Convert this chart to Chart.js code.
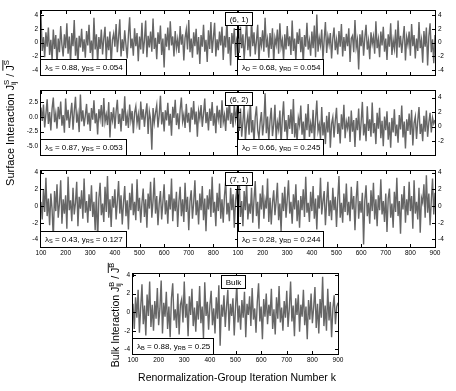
<!DOCTYPE html>
<html><head><meta charset="utf-8">
<script src="https://cdn.jsdelivr.net/npm/chart.js@4.4.1/dist/chart.umd.min.js"></script>
<style>
html,body{margin:0;padding:0;background:#fff;}
#wrap{position:relative;width:456px;height:391px;overflow:hidden;background:#fff;}
#wrap canvas{position:absolute;left:0;top:0;}
</style></head><body><div id="wrap"></div>
<script>
// ---------------- data ----------------
const kStart = 100, kStep = 5;
const kTicks = [100,200,300,400,500,600,700,800,900];
const yTicks4 = [-4,-2,0,2,4];
const yTicksS62 = [-5,-2.5,0,2.5];
const yTicksD62 = [-2,0,2,4];
const tagLabels = ['(6, 1)','(6, 2)','(7, 1)','Bulk'];
const lambdaS = ['0.88','0.87','0.43'];
const yRS = ['0.054','0.053','0.127'];
const lambdaD = ['0.68','0.66','0.28'];
const yRD = ['0.054','0.245','0.244'];
const lambdaB = '0.88', yRB = '0.25';

const surfS61 = [
3.9,-1.2,0.8,-2.1,1.5,-0.6,2.2,-1.8,0.4,-2.6,
1.9,-0.9,1.1,-3.2,0.6,-1.4,2.4,-0.3,-2.0,1.2,
-0.8,2.8,-1.6,0.9,-2.9,1.4,-0.5,3.3,-1.9,0.7,
-3.4,1.0,-0.7,2.0,-1.3,0.5,-2.2,1.7,-0.4,2.6,
-1.5,0.3,-2.4,3.6,-1.0,1.2,-3.0,0.8,-0.9,1.9,
-1.7,0.6,2.3,-2.5,0.9,-1.1,1.6,-3.3,0.4,1.3,
-0.6,2.7,-1.4,0.8,3.4,-2.0,0.5,-1.2,1.8,-0.3,
-2.3,1.1,3.7,-0.8,0.6,-1.9,2.1,-0.5,1.4,-2.7,
0.9,-1.0,2.9,-1.6,0.3,3.2,-2.1,1.0,-0.7,1.6,
-1.3,3.5,-0.9,0.7,-2.4,1.5,-0.2,2.5,-1.8,0.6,
-3.6,1.3,-0.6,2.2,-1.1,3.1,-0.4,0.9,-2.0,1.7,
-0.8,0.5,-1.5,2.4,-0.3,1.2,-2.6,0.7,1.9,-1.0,
3.3,-1.4,0.6,-2.2,1.5,-0.5,2.0,-1.7,0.8,-3.1,
1.1,-0.6,2.6,-1.3,0.4,-2.8,1.8,-0.9,3.0,-1.5,
0.7,2.9,-2.0,0.5,-1.1,1.6,-0.4,2.3,-2.5,1.0,
-0.7,3.4,-1.6,0.8,-3.3,1.4,-0.2,2.1,-1.9,0.6,
1.2];
const surfD61 = [
0.6,-1.5,2.3,-0.8,1.2,-2.4,0.4,3.1,-1.1,0.9,
-2.0,3.4,-0.5,1.5,-1.7,0.3,2.6,-2.9,0.8,-0.4,
1.8,-1.3,3.6,-0.7,0.5,-2.2,1.4,-0.9,2.1,-3.0,
0.7,-0.3,1.9,-1.6,2.8,-0.6,0.4,-2.5,1.2,-1.0,
2.4,-0.5,0.9,-1.8,3.2,-1.2,0.6,-2.7,1.5,-0.2,
2.0,-1.4,0.8,-3.1,1.1,-0.6,2.9,-1.0,0.3,-1.9,
1.6,-0.8,2.5,-2.1,4.1,-1.3,0.7,-0.4,1.9,-2.6,
0.5,3.0,-1.5,0.9,-0.3,1.4,-2.3,0.6,2.2,-1.1,
0.4,-1.7,1.7,-0.6,2.7,-2.0,0.8,-1.2,1.3,-0.5,
2.1,-2.8,0.6,1.0,-1.4,3.3,-0.7,0.4,-3.9,1.2,
-0.5,1.8,-1.9,0.7,2.6,-1.0,0.3,-2.4,1.5,-0.2,
0.9,-1.6,3.1,-0.8,0.5,-2.1,1.6,-0.4,2.3,-1.3,
0.6,-2.5,1.2,-0.6,2.8,-1.8,0.4,-0.9,1.9,-2.2,
3.2,-0.7,1.0,-1.5,0.5,2.4,-2.6,0.8,-0.3,1.6,
-1.9,2.7,-0.5,1.1,-2.3,0.6,-1.2,3.0,-0.8,0.4,
-2.9,1.7,-0.6,2.2,-3.3,0.9,2.8,-1.4,0.5,-3.0,
1.1];
const surfS62 = [
1.6,-0.7,2.1,-1.8,0.5,3.0,-1.2,0.8,-2.3,1.4,
3.3,-0.9,0.6,-2.0,1.7,-0.4,2.6,-1.5,0.3,-2.7,
3.1,-0.6,1.2,-1.9,0.4,2.4,-2.2,0.9,3.4,-1.0,
0.5,-2.6,3.8,-0.8,1.1,-1.6,0.2,2.2,-1.3,0.7,
-2.4,1.5,-0.5,2.8,-1.1,0.6,-3.0,1.3,-0.3,2.0,
-1.7,3.2,-0.9,0.4,-1.4,2.5,-3.5,0.8,-0.6,1.6,
-2.0,0.9,2.9,-1.2,0.5,-2.5,1.4,-0.7,3.5,-1.5,
0.3,-1.9,2.1,-0.6,1.0,-2.8,0.7,1.8,-1.1,0.4,
-2.2,2.6,-0.5,1.3,-1.7,0.6,2.3,-2.9,0.9,-0.4,
-5.6,1.5,-1.0,0.7,2.0,-1.8,0.3,3.6,-1.3,0.8,
-2.5,1.1,-0.6,2.4,-1.5,0.5,-3.2,1.7,-0.2,2.9,
-1.4,0.6,-2.1,1.2,3.3,-0.8,0.4,-1.9,2.2,-1.0,
0.7,-2.6,1.6,-0.5,2.7,-1.3,0.9,-3.4,1.0,-0.3,
2.0,-1.7,0.5,3.1,-1.1,0.8,-2.3,1.4,-0.7,2.5,
-1.5,0.6,-2.8,1.9,-0.4,1.2,-1.9,2.8,-0.9,0.3,
-2.4,1.6,-0.6,3.0,-1.2,0.7,-1.8,2.3,-0.5,1.1,
-1.3];
const surfD62 = [
1.8,-0.6,2.5,-1.4,0.7,3.2,-1.9,0.4,1.6,-1.1,
3.7,-0.8,0.9,-2.2,1.3,2.8,-0.5,-1.6,0.6,2.0,
-1.2,0.5,4.6,-0.9,1.4,-2.0,0.8,2.6,-1.3,0.3,
3.0,-1.7,0.6,-0.4,2.2,-2.5,1.1,3.5,-0.7,0.9,
-1.8,1.6,-0.3,2.4,-1.0,3.8,-1.5,0.5,-2.2,1.2,
0.2,2.9,-1.1,0.7,-2.6,1.8,-0.5,3.1,-1.4,0.4,
-0.9,2.3,-2.0,1.0,3.6,-0.6,0.3,-1.7,2.7,-1.2,
0.6,-2.4,1.5,-0.8,2.0,-2.9,0.4,1.3,-1.5,0.8,
2.6,-1.0,0.5,-2.3,1.7,-0.4,3.0,-1.6,0.7,-0.2,
1.4,-2.1,2.2,-0.7,0.9,-2.8,1.2,-0.5,2.5,-1.9,
0.6,3.4,-1.2,0.4,-2.0,2.8,-0.6,1.0,-1.4,3.3,
-0.9,0.5,-2.4,1.9,-0.3,2.6,-1.6,0.8,-2.7,1.4,
-0.5,2.1,-1.8,0.6,-2.9,1.2,-0.8,2.4,-1.3,0.3,
-2.2,1.6,-0.4,2.9,-1.5,0.7,-3.0,1.0,-0.6,1.8,
-1.1,2.3,-2.6,0.5,1.4,-1.7,0.8,2.7,-1.0,0.4,
-2.0,1.5,-0.7,2.2,-1.4,0.6,1.9,-0.8,1.2,0.4,
0.9];
const surfS71 = [
0.5,-1.6,2.0,-0.7,3.4,-1.2,0.9,-2.3,1.5,-0.4,
-3.9,1.8,-0.6,2.6,-1.4,0.3,3.1,-2.1,0.8,-0.9,
1.3,-2.7,3.5,-0.5,0.7,-1.8,2.2,-1.0,0.4,2.9,
-2.4,1.1,-0.3,1.9,-1.5,3.3,-0.8,0.6,-2.0,1.4,
-0.6,2.5,-1.3,0.5,-2.9,1.7,-4.2,0.9,2.8,-1.1,
0.3,-1.9,2.3,-0.7,3.6,-1.4,0.8,-2.5,1.2,-0.2,
2.0,-1.6,0.6,3.0,-0.9,1.3,-2.2,0.4,2.4,-1.2,
0.7,-2.8,1.6,-0.5,2.7,-1.1,0.5,-1.7,3.2,-0.6,
1.0,-2.0,0.4,2.1,-1.3,0.8,-2.6,1.5,-0.3,2.9,
-1.4,0.6,3.4,-0.9,1.2,-2.3,0.3,1.8,-1.6,0.5,
2.6,-1.0,0.7,-2.1,1.4,-0.4,3.3,-1.8,0.9,-0.6,
1.7,-2.5,0.5,2.3,-1.2,0.8,-1.9,2.8,-0.7,1.1,
-2.9,0.6,1.9,-1.5,0.4,3.1,-1.1,0.7,-2.2,1.5,
-0.5,2.4,-1.7,0.9,-3.0,1.3,-0.4,2.0,-1.3,3.5,
-0.8,0.5,-2.4,1.6,-0.6,2.7,-1.5,0.8,-2.0,1.2,
3.0,-1.0,0.4,-1.8,2.2,-0.5,1.4,-2.6,0.7,1.9,
-0.8];
const surfD71 = [
1.4,3.2,-1.3,0.6,-2.4,1.8,-0.5,2.7,-1.6,0.3,
-0.9,2.2,-2.0,0.8,3.0,-1.2,0.5,-2.7,1.5,-0.4,
2.5,-1.5,0.7,-0.3,3.3,-1.9,1.0,-2.2,0.4,1.9,
-1.1,0.6,2.8,-1.7,0.3,-3.0,1.6,-0.6,2.3,-1.4,
0.8,3.1,-0.9,0.5,-2.1,1.4,-0.4,2.6,-1.8,0.7,
-2.6,1.2,-0.5,2.0,-1.3,3.5,-0.8,0.4,-1.9,1.7,
-0.6,2.4,-1.5,0.9,-2.8,1.3,-0.3,3.4,-1.0,0.6,
1.8,-2.3,0.5,2.9,-1.2,0.7,-1.7,2.2,-0.5,1.1,
-2.5,0.8,3.6,-1.4,0.4,-2.0,1.5,-0.7,2.7,-1.1,
0.5,-1.8,2.3,-0.4,1.2,-2.9,0.9,3.0,-1.5,0.6,
-0.8,1.6,-4.6,0.7,2.5,-1.2,0.4,-2.1,1.9,-0.6,
2.8,-1.6,0.8,-2.4,1.3,-0.5,3.2,-1.0,0.6,-1.9,
1.5,-3.1,0.9,2.1,-1.4,0.3,-2.6,1.7,-0.7,3.4,
-1.2,0.6,-3.3,1.4,-0.4,2.4,-2.0,0.8,-1.1,2.9,
-0.6,1.2,-2.7,3.1,-0.9,0.5,-1.6,2.2,-3.2,1.0,
0.4,2.6,-1.4,3.7,-0.8,1.5,-2.3,0.7,3.3,-1.0,
1.6];
const bulkB = [
0.9,-1.8,1.6,-0.6,2.4,-2.2,0.5,3.0,-1.3,0.7,
-2.5,1.9,-0.4,3.3,-1.6,0.8,-2.0,1.2,-0.7,2.6,
-1.4,0.4,3.4,-2.3,1.0,-0.5,2.2,-1.8,0.6,-2.7,
1.5,3.1,-0.9,0.3,-1.7,2.0,-2.4,0.8,1.4,-1.1,
3.3,-0.6,0.9,-2.6,1.7,-0.3,2.5,-1.5,0.5,-2.1,
1.2,-0.8,2.8,-1.2,0.6,-2.8,3.2,-0.4,1.1,-1.9,
0.7,2.3,-1.4,0.4,-2.3,1.6,-0.7,2.9,-3.6,0.8,
-0.5,1.8,-1.6,0.6,2.4,-2.0,0.9,-0.4,1.5,-2.5,
0.5,3.0,-1.1,0.7,-1.9,1.3,-0.6,2.2,-2.7,0.9,
-0.3,1.7,-1.5,2.6,-0.8,0.4,-2.2,1.1,3.1,-1.0,
0.6,-2.9,1.4,-0.5,2.0,-1.3,0.8,-0.4,2.5,-1.8,
0.3,-2.4,1.6,-0.7,2.8,-1.1,0.5,-2.0,1.2,-0.6,
2.3,-1.6,0.4,3.3,-1.0,0.7,-2.6,1.5,-0.3,1.9,
-2.1,0.8,-0.5,2.4,-1.4,0.6,-2.9,1.3,-0.8,2.0,
-1.2,0.5,2.7,-1.7,0.9,-2.3,1.4,-0.6,3.8,-1.5,
0.7,-2.0,2.5,-0.9,1.1,-2.7,0.4,1.8,-1.3,0.6,
1.0];

// ---------------- layout / style ----------------
const FONT = '"Liberation Sans", Arial, Helvetica, sans-serif';
const LINE = '#666666';
const LINE_W = 1.4;
const YW = 16, XH = 12, TICK_FS = 6.5, NOTE_FS = 8, TITLE_FS = 10.5, YTITLE_FS = 11;
const rows = [{top:11,bottom:87},{top:91,bottom:167},{top:171,bottom:247}];
const LX = {l:41, r:238}, RX = {l:238, r:435};

function noteS(i){ return ['λ',{sub:'S'},' = '+lambdaS[i]+', y',{sub:'RS'},' = '+yRS[i]]; }
function noteD(i){ return ['λ',{sub:'D'},' = '+lambdaD[i]+', y',{sub:'RD'},' = '+yRD[i]]; }

const panels = [
 {data:surfS61, box:LX, ...rows[0], side:'left',  yMin:-4.7, yMax:4.6, yTicks:yTicks4,   dec:0, note:noteS(0)},
 {data:surfD61, box:RX, ...rows[0], side:'right', yMin:-4.7, yMax:4.6, yTicks:yTicks4,   dec:0, note:noteD(0), tag:tagLabels[0]},
 {data:surfS62, box:LX, ...rows[1], side:'left',  yMin:-6.5, yMax:4.4, yTicks:yTicksS62, dec:1, note:noteS(1)},
 {data:surfD62, box:RX, ...rows[1], side:'right', yMin:-3.9, yMax:4.9, yTicks:yTicksD62, dec:0, note:noteD(1), tag:tagLabels[1]},
 {data:surfS71, box:LX, ...rows[2], side:'left',  yMin:-4.9, yMax:4.2, yTicks:yTicks4,   dec:0, note:noteS(2), xLabels:true, hide900:true},
 {data:surfD71, box:RX, ...rows[2], side:'right', yMin:-4.9, yMax:4.2, yTicks:yTicks4,   dec:0, note:noteD(2), tag:tagLabels[2], xLabels:true},
 {data:bulkB, box:{l:133,r:338}, top:274, bottom:354, side:'left', yMin:-4.5, yMax:4.1, yTicks:yTicks4, dec:0,
  note:['λ',{sub:'B'},' = '+lambdaB+', y',{sub:'RB'},' = '+yRB], tag:tagLabels[3], tagK:490, xLabels:true, titles:true}
];

// ---------------- rich text helpers ----------------
function layoutRich(ctx, parts, size){
  const items = []; let x = 0;
  const setF = s => ctx.font = s + 'px ' + FONT;
  for (const p of parts){
    if (typeof p === 'string'){ setF(size); items.push({t:p, x, dy:0, s:size}); x += ctx.measureText(p).width; }
    else if (p.over){
      setF(size); const w = ctx.measureText(p.over).width; items.push({t:p.over, x, dy:0, s:size});
      let w2 = 0;
      if (p.sup){ const ss = size*0.7; setF(ss); w2 = ctx.measureText(p.sup).width; items.push({t:p.sup, x:x+w, dy:-size*0.36, s:ss}); }
      items.push({bar:true, x, w:w+w2, dy:-size*0.78});
      x += w + w2;
    } else {
      const ss = size*0.7; setF(ss); let w = 0;
      if (p.sup){ items.push({t:p.sup, x, dy:-size*0.36, s:ss}); w = Math.max(w, ctx.measureText(p.sup).width); }
      if (p.sub){ items.push({t:p.sub, x, dy:size*0.3, s:ss}); w = Math.max(w, ctx.measureText(p.sub).width); }
      x += w;
    }
  }
  return {items, width:x};
}
function drawRich(ctx, parts, size, x, y, align){
  const L = layoutRich(ctx, parts, size);
  const x0 = align === 'center' ? x - L.width/2 : x;
  ctx.textAlign = 'left'; ctx.textBaseline = 'middle'; ctx.fillStyle = '#000';
  for (const it of L.items){
    if (it.bar){ ctx.fillRect(x0 + it.x, y + it.dy, it.w, 0.9); continue; }
    ctx.font = it.s + 'px ' + FONT; ctx.fillText(it.t, x0 + it.x, y + it.dy);
  }
  return L.width;
}

function makePanelPlugin(p, idx){
  return {
    id: 'panel' + idx,
    afterDraw(chart){
      const ctx = chart.ctx, a = chart.chartArea, xs = chart.scales.x, ys = chart.scales.y;
      ctx.save();
      ctx.strokeStyle = '#000'; ctx.lineWidth = 1;
      ctx.strokeRect(a.left-0.5, a.top-0.5, a.right-a.left+1, a.bottom-a.top+1);
      ctx.beginPath();
      kTicks.forEach(v => { const px = Math.round(xs.getPixelForValue(v)) + 0.5;
        ctx.moveTo(px, a.top); ctx.lineTo(px, a.top+3); ctx.moveTo(px, a.bottom); ctx.lineTo(px, a.bottom-3); });
      p.yTicks.forEach(v => { const py = Math.round(ys.getPixelForValue(v)) + 0.5;
        ctx.moveTo(a.left, py); ctx.lineTo(a.left+3, py); ctx.moveTo(a.right, py); ctx.lineTo(a.right-3, py); });
      ctx.stroke();
      if (p.note){
        const L = layoutRich(ctx, p.note, NOTE_FS);
        const w = Math.round(L.width + 8), h = 16;
        const bx = a.left - 0.5, by = a.bottom - h + 0.5;
        ctx.fillStyle = '#fff'; ctx.fillRect(bx, by, w, h); ctx.strokeRect(bx, by, w, h);
        drawRich(ctx, p.note, NOTE_FS, a.left + 4, by + h/2);
      }
      if (p.tag){
        ctx.font = NOTE_FS + 'px ' + FONT;
        const tw = ctx.measureText(p.tag).width, w = Math.round(tw + 8), h = 13;
        const cx = p.tagK != null ? xs.getPixelForValue(p.tagK) : a.left;
        const bx = Math.round(cx - w/2) + 0.5, by = a.top + 1.5;
        ctx.fillStyle = '#fff'; ctx.fillRect(bx, by, w, h); ctx.strokeRect(bx, by, w, h);
        ctx.fillStyle = '#000'; ctx.textAlign = 'center'; ctx.textBaseline = 'middle';
        ctx.fillText(p.tag, bx + w/2, by + h/2 + 0.5);
      }
      if (p.titles){
        ctx.save(); ctx.translate(11, 123); ctx.rotate(-Math.PI/2);
        drawRich(ctx, ['Surface Interaction J',{sup:'S',sub:'ij'},' / ',{over:'J',sup:'S'}], YTITLE_FS, 0, 0, 'center');
        ctx.restore();
        ctx.save(); ctx.translate(116, 315); ctx.rotate(-Math.PI/2);
        drawRich(ctx, ['Bulk Interaction J',{sup:'B',sub:'ij'},' / ',{over:'J',sup:'B'}], TITLE_FS, 0, 0, 'center');
        ctx.restore();
        drawRich(ctx, ['Renormalization-Group Iteration Number k'], TITLE_FS, 237, 378, 'center');
      }
      ctx.restore();
    }
  };
}

const wrap = document.getElementById('wrap');
panels.forEach((p, i) => {
  const cv = document.createElement('canvas'); cv.width = 456; cv.height = 391; wrap.appendChild(cv);
  const pad = {
    top: p.top,
    bottom: 391 - p.bottom - (p.xLabels ? XH : 0),
    left: p.box.l - (p.side === 'left' ? YW : 0),
    right: 456 - p.box.r - (p.side === 'right' ? YW : 0)
  };
  new Chart(cv, {
    type: 'line',
    data: { datasets: [{
      data: p.data.map((v, j) => ({x: kStart + j*kStep, y: v})),
      borderColor: LINE, borderWidth: LINE_W, pointRadius: 0, tension: 0, fill: false
    }]},
    options: {
      responsive: false, animation: false, devicePixelRatio: 1, events: [],
      layout: { padding: pad },
      plugins: { legend: {display:false}, tooltip: {enabled:false} },
      scales: {
        x: { type:'linear', min:100, max:900, display: !!p.xLabels, position:'bottom',
             grid:{display:false, drawTicks:false}, border:{display:false},
             afterFit: s => { s.height = XH; },
             afterBuildTicks: s => { s.ticks = kTicks.map(v => ({value:v})); },
             ticks:{ autoSkip:false, maxRotation:0, padding:2, color:'#000', font:{family:FONT, size:TICK_FS},
                     callback: v => (p.hide900 && v === 900) ? '' : String(v) } },
        y: { type:'linear', min:p.yMin, max:p.yMax, position:p.side,
             grid:{display:false, drawTicks:false}, border:{display:false},
             afterFit: s => { s.width = YW; },
             afterBuildTicks: s => { s.ticks = p.yTicks.map(v => ({value:v})); },
             ticks:{ padding:3, color:'#000', font:{family:FONT, size:TICK_FS},
                     callback: v => Number(v).toFixed(p.dec) } }
      }
    },
    plugins: [makePanelPlugin(p, i)]
  });
});
</script></body></html>
